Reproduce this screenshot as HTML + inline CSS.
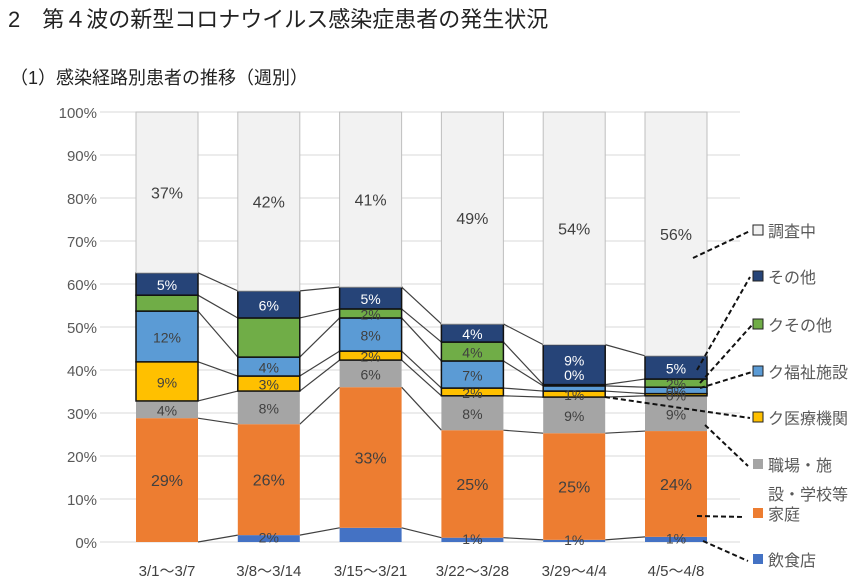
<!DOCTYPE html>
<html><head><meta charset="utf-8">
<style>
body{margin:0;background:#fff;width:865px;height:588px;overflow:hidden;font-family:"Liberation Sans","Noto Sans CJK JP",sans-serif}
svg{position:absolute;left:0;top:0}
</style></head><body>
<svg id="c" width="865" height="588">
<text x="8" y="27" font-size="22" fill="#222">2　第４波の新型コロナウイルス感染症患者の発生状況</text>
<text x="10" y="84" font-size="18" fill="#222">（1）感染経路別患者の推移（週別）</text>
</svg>
<script>
const categories=["3/1～3/7","3/8～3/14","3/15～3/21","3/22～3/28","3/29～4/4","4/5～4/8"];
const seriesNames=["飲食店","家庭","職場・施設・学校等","ク医療機関","ク福祉施設","クその他","その他","調査中"];
const s0=[0,1.6,3.3,1,0.5,1.2];
const s1=[28.8,25.8,32.7,25,24.8,24.6];
const s2=[4,7.7,6.3,8,8.4,8.2];
const s3=[9.1,3.5,2.1,1.8,1.4,0.5];
const s4=[11.8,4.4,7.7,6.3,1.2,1.5];
const s5=[3.7,9.1,2.1,4.4,0.3,1.9];
const s6=[5.2,6.3,5.1,4.2,9.3,5.4];
const s7=[37.4,41.6,40.7,49.3,54.1,56.7];
const labels0=["","2%","","1%","1%","1%"];
const labels1=["29%","26%","33%","25%","25%","24%"];
const labels2=["4%","8%","6%","8%","9%","9%"];
const labels3=["9%","3%","2%","2%","1%","0%"];
const labels4=["12%","4%","8%","7%","0%","0%"];
const labels5=["","","2%","4%","","2%"];
const labels6=["5%","6%","5%","4%","9%","5%"];
const labels7=["37%","42%","41%","49%","54%","56%"];
const yTicks=[0,10,20,30,40,50,60,70,80,90,100];
const series=[s0,s1,s2,s3,s4,s5,s6,s7];
const labs=[labels0,labels1,labels2,labels3,labels4,labels5,labels6,labels7];
const colors=["#4472c4","#ed7d31","#a5a5a5","#ffc000","#5b9bd5","#70ad47","#264478","#f2f2f2"];
const txtCol=["#444","#404040","#404040","#404040","#404040","#404040","#fff","#404040"];
const stroked=[false,false,false,true,true,true,true,false];
const NS="http://www.w3.org/2000/svg",svg=document.getElementById('c');
const y=v=>542-v*4.3, x=i=>167+i*101.8, BW=62;
function el(t,a,p){const e=document.createElementNS(NS,t);for(const k in a)e.setAttribute(k,a[k]);(p||svg).appendChild(e);return e;}
yTicks.forEach(t=>{
 const g=el('line',{x1:100,x2:740,y1:y(t),y2:y(t),stroke:'#d9d9d9','stroke-width':1});
 
 
 const tx=el('text',{x:97,y:y(t)+6,'text-anchor':'end','font-size':15,fill:'#595959'});tx.textContent=t+'%';
 
 
});
const cum=categories.map((_,i)=>{let c=0;return series.map(s=>c+=s[i]);});
for(let k=0;k<7;k++)for(let i=0;i<5;i++){
 const l=el('line',{x1:x(i)+BW/2,y1:y(cum[i][k]),x2:x(i+1)-BW/2,y2:y(cum[i+1][k]),stroke:'#404040','stroke-width':1.2});
 
 
}
const pending=[];
categories.forEach((c,i)=>{
 let base=0;
 series.forEach((s,k)=>{
  const v=s[i];
  const r=el('rect',{x:x(i)-BW/2,y:y(base+v),width:BW,height:v*4.3,fill:colors[k],stroke:stroked[k]?'#111':(k==7?'#bfbfbf':'none'),'stroke-width':stroked[k]?1.5:1});
  
  
  const lb=labs[k][i];
  if(lb){
   let ty=y(base+v/2)+(k==0?4:6), col=txtCol[k];
   if(k==4&&v<2&&s6[i]>8){ty=y(base+v)-6;col='#fff';}
   if(k==6&&s[i]>8&&s4[i]<2){ty=y(base+v/2)+1;}
   pending.push([x(i),ty,k,col,lb]);
  }
  base+=v;
 });
 const t=el('text',{x:x(i),y:576,'text-anchor':'middle','font-size':15,fill:'#404040'});t.textContent=c;
 
 
});
pending.forEach(([px,py,k,col,lb])=>{
 const t=el('text',{x:px,y:py,'text-anchor':'middle','font-size':k==7||k==1?16:14,fill:col});t.textContent=lb;
 
 
});
const leg=[["調査中",7,231,[693,258,750,231]],["その他",6,277,[697,370,750,277]],["クその他",5,325,[700,383,752,325]],["ク福祉施設",4,372,[700,388,752,372]],["ク医療機関",3,418,[605,397,750,418]],["職場・施",2,465,[705,425,748,466]],["家庭",1,514,[697,516,745,517]],["飲食店",0,560,[703,541,748,561]]];
leg.forEach(([n,k,yy,ln])=>{
 const d=el('line',{x1:ln[0],y1:ln[1],x2:ln[2],y2:ln[3],stroke:'#111','stroke-width':2,'stroke-dasharray':'5,3'});
 
 
 const r=el('rect',{x:753,y:yy-6,width:10,height:10,fill:colors[k],stroke:stroked[k]||k==7?'#222':'none','stroke-width':1});
 
 
 const t=el('text',{x:768,y:yy+6,'font-size':16,fill:'#595959'});t.textContent=n;
 
 
});
const t2=el('text',{x:768,y:500,'font-size':16,fill:'#595959'});t2.textContent="設・学校等";


</script>
</body></html>
